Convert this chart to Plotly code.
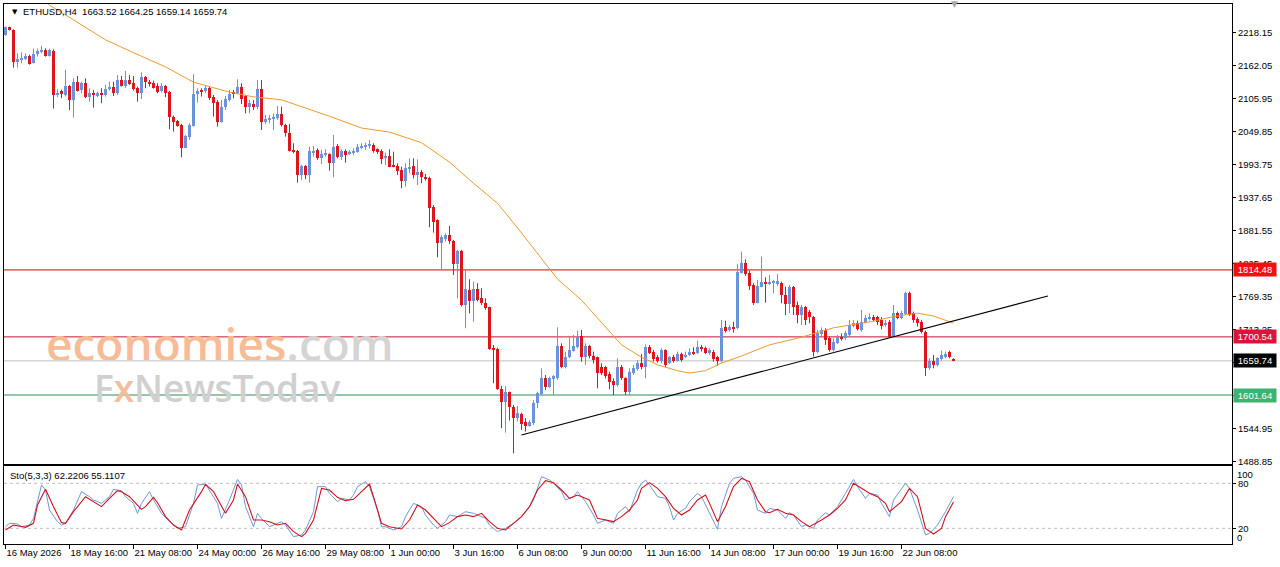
import pandas as pd
import plotly.graph_objects as go

# ---------------- data ----------------
start = pd.Timestamp("2026-05-16 00:00")

opens = [2214.3,2227.3,2222.8,2168.9,2172.3,2174.0,2179.1,2166.1,2182.0,2185.4,
 2188.8,2179.1,2187.6,2112.8,2119.0,2112.8,2127.5,2103.7,2134.9,2120.7,
 2133.2,2109.4,2116.2,2111.7,2115.1,2112.2,2121.9,2126.4,2116.2,2137.7,
 2128.1,2137.7,2132.1,2124.7,2116.2,2143.4,2134.3,2133.2,2127.5,2119.0,
 2127.5,2117.9,2075.4,2068.0,2061.8,2022.6,2041.3,2060.1,2113.9,2120.7,
 2119.0,2123.6,2108.3,2100.9,2066.9,2091.2,2103.7,2116.2,2115.1,2126.4,
 2110.5,2091.2,2096.9,2091.2,2121.9,2066.9,2069.7,2070.8,2072.5,2079.3,
 2061.2,2048.2,2018.7,2017.0,1976.1,1991.5,1976.1,2014.1,2018.7,2004.5,
 2010.2,2011.8,1995.9,2025.9,2006.1,2017.4,2011.8,2012.9,2015.7,2022.5,
 2024.2,2025.4,2027.1,2019.7,2017.4,2004.4,2008.4,1992.5,1991.4,1984.6,
 1966.4,1986.3,1991.4,1976.0,1981.7,1973.2,1971.5,1922.2,1899.5,1860.9,
 1866.6,1874.0,1864.3,1824.7,1846.8,1754.9,1780.4,1762.3,1781.6,1766.2,
 1758.9,1750.9,1681.8,1680.6,1611.4,1590.4,1607.4,1581.9,1562.1,1568.9,
 1555.3,1549.0,1553.6,1587.6,1603.5,1631.2,1614.8,1628.4,1630.1,1685.1,
 1648.8,1665.8,1677.2,1682.8,1702.1,1665.8,1685.1,1668.1,1665.8,1649.9,
 1648.8,1637.5,1626.1,1618.8,1649.9,1630.1,1607.4,1639.7,1645.4,1655.6,
 1649.9,1682.8,1675.5,1665.8,1660.2,1678.3,1656.8,1665.8,1660.2,1671.5,
 1667.0,1669.8,1675.5,1672.6,1684.0,1681.1,1673.8,1675.5,1665.8,1660.2,
 1718.0,1712.3,1718.0,1715.2,1809.8,1826.8,1809.8,1788.9,1758.8,1786.0,
 1794.5,1791.7,1792.8,1790.0,1791.7,1771.8,1756.5,1786.0,1754.8,1737.8,
 1752.0,1743.5,1733.9,1675.5,1705.5,1712.3,1698.1,1678.3,1690.8,1701.0,
 1698.1,1703.8,1719.1,1724.8,1712.3,1724.8,1730.5,1735.0,1733.9,1729.3,
 1720.8,1726.5,1702.1,1741.8,1732.2,1739.5,1775.8,1740.7,1730.5,1726.5,
 1709.5,1647.1,1660.1,1652.8,1662.4,1667.0,1675.5,1663.52]

highs = [2228.5,2228.5,2224.0,2183.1,2184.8,2183.1,2180.8,2191.0,2191.0,2195.6,
 2191.6,2191.0,2189.9,2121.9,2121.3,2154.8,2129.2,2140.6,2144.5,2134.9,
 2140.6,2123.6,2120.7,2117.9,2123.6,2129.2,2134.9,2134.9,2146.2,2144.5,
 2153.0,2146.2,2144.5,2126.4,2150.8,2144.5,2137.7,2136.6,2132.1,2132.1,
 2129.2,2119.0,2077.1,2069.7,2062.9,2044.2,2064.0,2147.4,2123.6,2123.6,
 2127.5,2127.5,2112.2,2103.7,2103.7,2110.5,2120.7,2120.7,2138.9,2132.1,
 2112.2,2103.7,2103.7,2137.7,2137.7,2078.2,2078.2,2081.0,2093.5,2092.4,
 2062.9,2062.9,2030.0,2018.7,1993.2,1993.2,2024.3,2025.5,2021.5,2018.7,
 2019.8,2012.9,2044.1,2028.8,2019.7,2019.7,2018.6,2021.4,2028.8,2029.9,
 2031.0,2035.6,2029.9,2021.4,2019.7,2014.0,2019.7,2015.7,1995.9,1990.2,
 1995.9,2004.4,2004.4,2002.7,1984.6,1977.7,1973.2,1925.0,1900.6,1874.0,
 1876.8,1889.3,1865.5,1848.5,1848.5,1814.5,1798.6,1794.6,1791.8,1783.3,
 1766.2,1752.1,1686.9,1682.3,1617.1,1617.1,1607.4,1584.7,1583.0,1571.7,
 1562.1,1559.2,1593.3,1607.4,1647.1,1635.8,1632.9,1635.8,1716.9,1689.6,
 1675.5,1699.8,1703.8,1711.2,1712.3,1689.6,1686.8,1675.5,1667.0,1655.6,
 1651.1,1641.4,1630.1,1664.1,1652.8,1631.8,1647.1,1652.8,1661.3,1671.5,
 1687.9,1686.8,1678.3,1669.8,1681.1,1679.4,1668.1,1669.8,1675.5,1673.8,
 1675.5,1681.1,1682.8,1694.2,1686.8,1684.0,1681.1,1678.3,1668.1,1729.3,
 1728.2,1720.8,1726.5,1824.6,1845.6,1832.5,1813.2,1791.7,1797.4,1837.1,
 1801.9,1805.9,1797.4,1807.6,1794.5,1786.0,1788.9,1787.2,1760.5,1754.8,
 1753.1,1746.3,1736.1,1712.3,1716.8,1715.1,1701.0,1698.1,1703.8,1706.6,
 1711.2,1729.3,1729.3,1728.2,1746.3,1737.8,1740.7,1737.8,1736.1,1733.9,
 1729.3,1729.3,1754.8,1743.5,1745.2,1777.5,1777.5,1743.5,1733.9,1729.3,
 1711.2,1664.1,1669.8,1665.8,1677.2,1675.5,1677.2,1664.25]

lows = [2212.6,2221.7,2158.7,2158.7,2166.1,2171.8,2163.8,2165.5,2177.4,2183.1,
 2177.4,2177.4,2089.0,2108.3,2106.6,2109.4,2086.7,2073.7,2117.9,2115.1,
 2106.6,2100.9,2090.7,2108.3,2098.1,2109.4,2119.6,2110.5,2112.2,2126.4,
 2123.6,2129.2,2119.6,2100.9,2105.4,2123.6,2126.4,2123.0,2115.1,2116.2,
 2108.3,2053.8,2049.9,2058.4,2006.2,2021.5,2035.7,2058.4,2099.2,2109.4,
 2115.1,2103.7,2075.4,2058.4,2065.2,2086.7,2100.9,2106.6,2113.9,2096.9,
 2081.0,2081.0,2086.7,2087.8,2052.7,2062.9,2064.0,2052.7,2069.7,2058.4,
 2041.3,2015.8,2013.0,1963.1,1967.6,1968.8,1963.1,2007.3,2001.7,1994.9,
 2007.3,1983.4,1972.1,2004.4,2001.6,1997.0,2010.1,2010.1,2014.0,2019.7,
 2018.6,2021.4,2014.0,2011.8,1994.8,1993.1,1989.1,1989.1,1976.0,1953.4,
 1956.2,1978.9,1970.4,1959.0,1961.9,1966.4,1887.0,1878.0,1836.0,1814.5,
 1862.6,1858.7,1806.0,1766.2,1752.1,1715.2,1740.7,1726.6,1760.6,1754.9,
 1746.4,1678.4,1621.7,1610.3,1545.1,1537.7,1558.1,1502.5,1556.4,1542.2,
 1539.4,1547.9,1550.7,1579.1,1601.8,1610.3,1613.1,1601.8,1627.3,1647.1,
 1647.1,1664.1,1675.5,1681.1,1658.5,1652.8,1664.1,1655.6,1613.1,1635.8,
 1630.1,1611.4,1601.8,1615.9,1627.3,1601.8,1601.8,1635.8,1643.1,1645.4,
 1630.1,1671.5,1658.5,1656.8,1655.6,1648.8,1654.5,1656.8,1658.5,1658.5,
 1664.1,1668.1,1669.8,1671.5,1675.5,1671.5,1669.8,1658.5,1651.1,1656.8,
 1707.8,1709.5,1707.8,1713.5,1808.7,1804.2,1780.4,1754.8,1757.7,1784.9,
 1758.8,1788.9,1774.7,1787.2,1757.7,1737.8,1740.7,1737.8,1723.6,1720.8,
 1720.8,1723.6,1667.0,1672.6,1701.0,1686.8,1675.5,1675.5,1688.5,1694.2,
 1695.3,1701.0,1716.8,1711.2,1709.5,1723.6,1728.2,1726.5,1720.8,1713.4,
 1718.0,1699.8,1701.0,1730.5,1730.5,1737.8,1736.1,1724.8,1718.0,1706.6,
 1634.1,1644.3,1647.1,1650.0,1660.1,1664.1,1664.1,1659.14]

closes = [2227.3,2222.8,2168.9,2173.5,2175.7,2178.6,2165.5,2182.0,2186.5,2188.8,
 2179.1,2188.8,2112.8,2116.2,2113.9,2127.5,2103.7,2134.9,2119.6,2133.2,
 2109.4,2116.2,2112.8,2115.1,2113.4,2122.4,2126.4,2116.2,2137.7,2128.1,
 2137.7,2130.9,2122.4,2116.2,2142.3,2133.8,2132.1,2124.7,2117.9,2127.5,
 2115.1,2074.2,2065.7,2059.5,2022.6,2042.5,2061.2,2113.9,2119.6,2116.8,
 2123.6,2106.6,2099.2,2066.9,2091.2,2105.4,2113.9,2113.9,2126.4,2106.0,
 2091.2,2098.1,2091.2,2121.9,2066.9,2070.8,2072.5,2075.4,2079.3,2061.2,
 2048.2,2017.5,2014.7,1976.1,1991.5,1976.1,2017.0,2017.5,2004.5,2011.3,
 2013.0,1995.9,2024.2,2006.1,2016.9,2010.1,2014.6,2017.4,2023.1,2025.9,
 2027.1,2028.8,2017.4,2015.7,2002.7,2008.4,1990.2,1990.2,1983.4,1966.4,
 1987.4,1990.2,1976.0,1981.7,1972.1,1968.7,1919.3,1896.7,1860.9,1871.1,
 1874.0,1864.3,1824.7,1846.8,1754.9,1781.6,1762.3,1781.6,1763.4,1757.7,
 1749.3,1679.5,1678.4,1611.4,1590.4,1607.4,1580.8,1562.1,1570.6,1552.4,
 1549.0,1556.4,1588.7,1604.6,1631.2,1614.8,1630.1,1634.1,1685.1,1648.8,
 1667.0,1678.3,1685.1,1699.8,1665.8,1685.1,1668.1,1661.3,1639.7,1639.7,
 1634.1,1624.4,1618.8,1649.9,1630.1,1607.4,1641.4,1647.1,1656.8,1649.9,
 1682.8,1672.6,1662.4,1660.2,1678.3,1652.8,1665.8,1659.6,1671.5,1661.3,
 1669.8,1675.5,1672.6,1682.8,1679.4,1673.8,1678.3,1662.4,1660.2,1715.2,
 1711.2,1716.9,1715.2,1811.5,1825.7,1807.6,1787.2,1757.7,1787.2,1794.5,
 1791.7,1794.5,1794.5,1796.2,1771.8,1756.5,1786.0,1750.9,1737.8,1752.0,
 1729.3,1733.9,1675.5,1706.6,1712.3,1695.3,1678.3,1692.5,1701.0,1696.4,
 1706.6,1720.8,1724.8,1713.4,1726.5,1732.2,1735.0,1729.3,1726.5,1719.1,
 1723.6,1701.0,1740.7,1732.2,1740.7,1775.8,1737.8,1729.3,1723.6,1709.5,
 1647.1,1660.1,1652.8,1664.1,1669.8,1671.5,1667.0,1659.74]

# moving average (orange), read at these bar numbers
ma_bars = [9, 11, 17, 25, 34, 40, 47, 56, 62, 69, 75, 81, 89, 96, 104, 111, 117, 123,
           128, 133, 138, 144, 154, 159, 163, 168, 171, 175, 179, 184, 191, 199, 207,
           216, 222, 228, 232, 237]
ma_vals = [2276, 2265, 2240, 2206, 2178, 2160, 2134, 2117, 2109, 2104, 2090, 2076, 2056,
           2049, 2031, 1998, 1962, 1928, 1886, 1843, 1799, 1763, 1687, 1666, 1653, 1643,
           1639, 1643, 1656, 1668, 1687, 1700, 1716, 1726, 1735, 1741, 1736, 1724]

# stochastic %K (blue) and %D (red), read at these bar numbers
k_bars = [0,1,3,4,6,7,9,10,11,13,14,15,17,19,21,22,24,26,27,29,30,32,33,34,36,37,39,41,43,
          45,47,48,50,51,53,54,56,58,59,60,62,63,64,66,67,69,70,72,74,75,77,78,80,81,83,84,
          86,87,88,90,91,93,94,95,97,99,100,102,104,105,107,108,110,111,113,115,117,118,120,
          121,123,125,127,129,131,132,134,136,137,139,140,142,143,145,147,148,150,152,153,
          155,156,158,159,160,161,163,165,166,167,168,170,171,173,174,176,178,179,181,182,
          184,185,187,188,190,191,193,195,196,197,199,200,202,203,205,206,208,210,212,213,
          215,216,218,219,221,222,225,226,228,230,231,233,235,237]
k_vals = [22.2,26.7,25.8,22.2,24.4,33.3,77.8,71.1,44.4,28.9,24.4,26.7,44.4,68.9,62.2,57.8,
          53.3,62.2,72.0,70.2,62.2,53.3,40.0,53.3,68.9,57.8,40.0,28.9,20.0,22.2,53.3,77.8,
          79.1,71.1,53.3,33.3,57.8,85.3,77.8,48.9,22.2,40.0,33.3,22.2,24.4,28.9,24.4,8.9,
          11.1,17.8,42.2,75.6,75.6,66.7,55.6,60.0,57.8,64.4,75.6,82.2,75.6,44.4,22.2,22.2,
          17.8,22.2,35.6,53.3,48.9,37.8,24.4,20.0,28.9,37.8,35.6,42.2,40.0,37.8,33.3,24.4,
          15.6,20.0,26.7,35.6,48.9,57.8,88.9,84.4,80.0,68.9,57.8,62.2,68.9,55.6,37.8,26.7,
          31.1,26.7,40.0,48.9,42.2,71.1,80.0,84.4,77.8,62.2,60.0,48.9,31.1,40.0,46.7,55.6,
          66.7,62.2,40.0,18.7,48.9,80.0,86.7,88.9,84.4,66.7,44.4,40.0,46.7,44.4,33.3,40.9,
          37.8,22.2,24.4,20.0,31.1,40.9,37.8,48.9,66.7,85.3,75.6,60.0,66.7,64.4,53.3,35.6,
          57.8,80.0,73.3,44.4,11.1,13.3,24.4,42.2,62.22]
d_bars = [0,2,5,7,8,10,12,14,15,17,20,22,24,26,28,29,31,34,35,37,38,40,42,44,46,49,50,52,
          55,57,58,60,62,64,66,68,70,72,74,75,77,79,81,83,85,87,89,91,92,94,96,99,101,103,
          105,107,109,111,113,115,117,119,121,123,125,127,129,131,133,135,137,139,141,143,
          146,148,150,152,154,156,158,159,161,163,165,167,169,171,173,175,176,178,180,182,
          184,186,188,190,191,193,195,197,199,201,204,206,208,210,212,214,216,218,220,221,
          224,226,228,230,232,234,235,237]
d_vals = [17.8,24.4,21.3,26.7,51.1,72.0,48.9,27.6,26.7,42.2,62.2,55.6,48.9,60.0,70.2,68.9,
          62.2,45.3,48.9,61.3,54.2,35.6,24.4,17.8,44.4,68.9,78.7,68.9,40.0,57.8,79.1,62.2,
          31.1,31.1,28.9,24.4,26.7,15.6,8.9,13.3,31.1,73.3,71.1,61.3,56.9,58.7,68.9,79.1,
          62.2,26.7,22.2,19.1,31.1,51.1,44.4,33.3,22.2,27.6,35.6,37.8,35.6,40.0,28.9,20.0,
          17.8,26.7,35.6,48.9,71.1,83.6,80.9,71.1,60.0,64.4,57.8,33.3,31.1,28.9,35.6,44.4,
          57.8,73.3,80.9,73.3,62.2,46.7,37.8,44.4,57.8,64.4,53.3,28.9,48.9,75.6,86.7,82.2,
          57.8,42.2,40.9,45.3,40.0,37.8,28.9,22.2,31.1,37.8,46.7,57.8,80.0,73.3,66.7,62.2,
          53.3,42.2,55.6,73.3,62.2,20.0,12.4,20.0,35.6,55.11]

price_ticks = [2218.15, 2162.05, 2105.95, 2049.85, 1993.75, 1937.65, 1881.55, 1825.45,
               1769.35, 1713.25, 1657.15, 1601.05, 1544.95, 1488.85]
x_tick_bars = [0, 16, 32, 48, 64, 80, 96, 112, 128, 144, 160, 176, 192, 208, 224]
x_tick_text = ["16 May 2026", "18 May 16:00", "21 May 08:00", "24 May 00:00", "26 May 16:00",
               "29 May 08:00", "1 Jun 00:00", "3 Jun 16:00", "6 Jun 08:00", "9 Jun 00:00",
               "11 Jun 16:00", "14 Jun 08:00", "17 Jun 00:00", "19 Jun 16:00", "22 Jun 08:00"]

resistance = 1814.48
pivot = 1700.54
bid = 1659.74
support = 1601.64
trend_dates = ["2026-06-06 12:00", "2026-06-28 10:24"]
trend_prices = [1533.6, 1770.1]

# ---------------- figure ----------------
n = len(closes)
dates = pd.date_range(start, periods=n, freq="4h")
BULL = "#6A93DE"
BEAR = "#E0141C"
FONT = "Liberation Sans, Arial, sans-serif"

fig = go.Figure()

# wicks
for bull in (True, False):
    wx, wy = [], []
    for d, o, h, l, c in zip(dates, opens, highs, lows, closes):
        if (c >= o) == bull:
            wx += [d, d, None]
            wy += [l, h, None]
    fig.add_trace(go.Scatter(x=wx, y=wy, mode="lines",
                             line=dict(color=BULL if bull else BEAR, width=1),
                             hoverinfo="skip", showlegend=False, xaxis="x", yaxis="y"))

# bodies
body_base = [min(o, c) for o, c in zip(opens, closes)]
body_h = [max(abs(c - o), 1.8) for o, c in zip(opens, closes)]
body_col = [BULL if c >= o else BEAR for o, c in zip(opens, closes)]
fig.add_trace(go.Bar(x=dates, y=body_h, base=body_base, width=3 * 3600 * 1000,
                     marker=dict(color=body_col, line=dict(width=0)),
                     showlegend=False, xaxis="x", yaxis="y"))

# moving average
fig.add_trace(go.Scatter(x=[dates[i] for i in ma_bars], y=ma_vals, mode="lines",
                         line=dict(color="#EE9A2C", width=1), showlegend=False,
                         xaxis="x", yaxis="y"))

# trend line
fig.add_trace(go.Scatter(x=pd.to_datetime(trend_dates), y=trend_prices, mode="lines",
                         line=dict(color="black", width=1.2), showlegend=False,
                         xaxis="x", yaxis="y"))

# stochastic
fig.add_trace(go.Scatter(x=[dates[i] for i in k_bars], y=k_vals, mode="lines",
                         line=dict(color="#6E98D8", width=1), showlegend=False,
                         xaxis="x2", yaxis="y2"))
fig.add_trace(go.Scatter(x=[dates[i] for i in d_bars], y=d_vals, mode="lines",
                         line=dict(color="#D4101C", width=1.1), showlegend=False,
                         xaxis="x2", yaxis="y2"))

x0 = start - pd.Timedelta(hours=1.5)
x1 = start + pd.Timedelta(hours=1226.5)

shapes = [
    dict(type="line", xref="x domain", yref="y", x0=0, x1=1, y0=resistance, y1=resistance,
         line=dict(color="#D40000", width=1), layer="below"),
    dict(type="line", xref="x domain", yref="y", x0=0, x1=1, y0=pivot, y1=pivot,
         line=dict(color="#C8102E", width=1), layer="below"),
    dict(type="line", xref="x domain", yref="y", x0=0, x1=1, y0=bid, y1=bid,
         line=dict(color="#C0C0C0", width=1), layer="below"),
    dict(type="line", xref="x domain", yref="y", x0=0, x1=1, y0=support, y1=support,
         line=dict(color="#2E8B57", width=1), layer="below"),
    dict(type="line", xref="x2 domain", yref="y2", x0=0, x1=1, y0=80, y1=80,
         line=dict(color="#C0C0C0", width=1, dash="3px,3px"), layer="below"),
    dict(type="line", xref="x2 domain", yref="y2", x0=0, x1=1, y0=20, y1=20,
         line=dict(color="#C0C0C0", width=1, dash="3px,3px"), layer="below"),
]

def price_box(val, bg):
    return dict(xref="paper", x=1, xanchor="left", xshift=1, yref="y", y=val,
                yanchor="middle", text=f"{val:.2f}", showarrow=False,
                font=dict(family=FONT, size=9.5, color="white"), bgcolor=bg,
                width=40, height=11, borderpad=1, align="center")

annotations = [
    price_box(resistance, "#F01010"),
    price_box(pivot, "#DC143C"),
    price_box(bid, "#000000"),
    price_box(support, "#3CB371"),
    dict(xref="paper", x=0.0045, xanchor="left", yref="paper", y=0.9852, yanchor="middle",
         text="▼", showarrow=False, font=dict(family="DejaVu Sans", size=7, color="black")),
    dict(xref="paper", x=0.0135, xanchor="left", yref="paper", y=0.9852, yanchor="middle",
         text="ETHUSD,H4  1663.52 1664.25 1659.14 1659.74", showarrow=False,
         font=dict(family=FONT, size=9.5, color="black")),
    dict(xref="paper", x=0.0035, xanchor="left", yref="paper", y=0.1265, yanchor="middle",
         text="Sto(5,3,3) 62.2206 55.1107", showarrow=False,
         font=dict(family=FONT, size=9.5, color="black")),
    dict(xref="paper", x=1, xanchor="left", xshift=3, yref="paper", y=0.1296,
         yanchor="middle", text="100", showarrow=False,
         font=dict(family=FONT, size=9.5, color="black")),
    dict(xref="paper", x=1, xanchor="left", xshift=3, yref="paper", y=0.0117,
         yanchor="middle", text="0", showarrow=False,
         font=dict(family=FONT, size=9.5, color="black")),
    dict(xref="paper", x=0.7785, yref="paper", y=1.0, yanchor="middle",
         text="▼", showarrow=False, font=dict(family="DejaVu Sans", size=9, color="#A8A8A8")),
    # watermark
    dict(xref="paper", x=0.176, yref="paper", y=0.372, xanchor="center", yanchor="middle",
         text='<span style="color:#F6BC96">economies</span><span style="color:#D4D4D4">.com</span>',
         showarrow=False, height=34, font=dict(family="Open Sans", size=46, weight=600)),
    dict(xref="paper", x=0.1735, yref="paper", y=0.2907, xanchor="center", yanchor="middle",
         text='<span style="color:#D0D0D0">F</span><span style="color:#F1BE9E">x</span>'
              '<span style="color:#D0D0D0">NewsToday</span>',
         showarrow=False, height=30, font=dict(family="Open Sans", size=37, weight=600)),
]

axis_common = dict(showgrid=False, zeroline=False, showline=True, mirror=True,
                   linecolor="black", linewidth=1)

fig.update_layout(
    width=1280, height=567,
    margin=dict(l=4, r=48, t=4, b=23),
    paper_bgcolor="white", plot_bgcolor="white",
    barmode="overlay", bargap=0,
    showlegend=False, hovermode=False,
    font=dict(family=FONT, size=9.5, color="black"),
    xaxis=dict(axis_common, domain=[0, 1], range=[x0, x1], type="date",
               showticklabels=False, ticks="", anchor="y", automargin=False),
    yaxis=dict(axis_common, domain=[0.1481, 1], range=[1484.2, 2267.0], side="right",
               anchor="x", tickvals=price_ticks, ticktext=[f"{v:.2f}" for v in price_ticks],
               ticks="outside", ticklen=3, tickcolor="black", automargin=False,
               tickfont=dict(family=FONT, size=9.5)),
    xaxis2=dict(axis_common, domain=[0, 1], range=[x0, x1], type="date", anchor="y2",
                tickvals=[dates[i] for i in x_tick_bars], ticktext=x_tick_text,
                ticks="outside", ticklen=4, tickcolor="black", tickangle=0,
                ticklabelposition="outside right", automargin=False,
                tickfont=dict(family=FONT, size=9.5)),
    yaxis2=dict(axis_common, domain=[0, 0.1444], range=[-0.9, 103.1], side="right",
                anchor="x2", tickvals=[80, 20], ticktext=["80", "20"], ticks="outside",
                ticklen=3, tickcolor="black", automargin=False,
                tickfont=dict(family=FONT, size=9.5)),
    shapes=shapes,
    annotations=annotations,
)

fig.write_html("out.html")
